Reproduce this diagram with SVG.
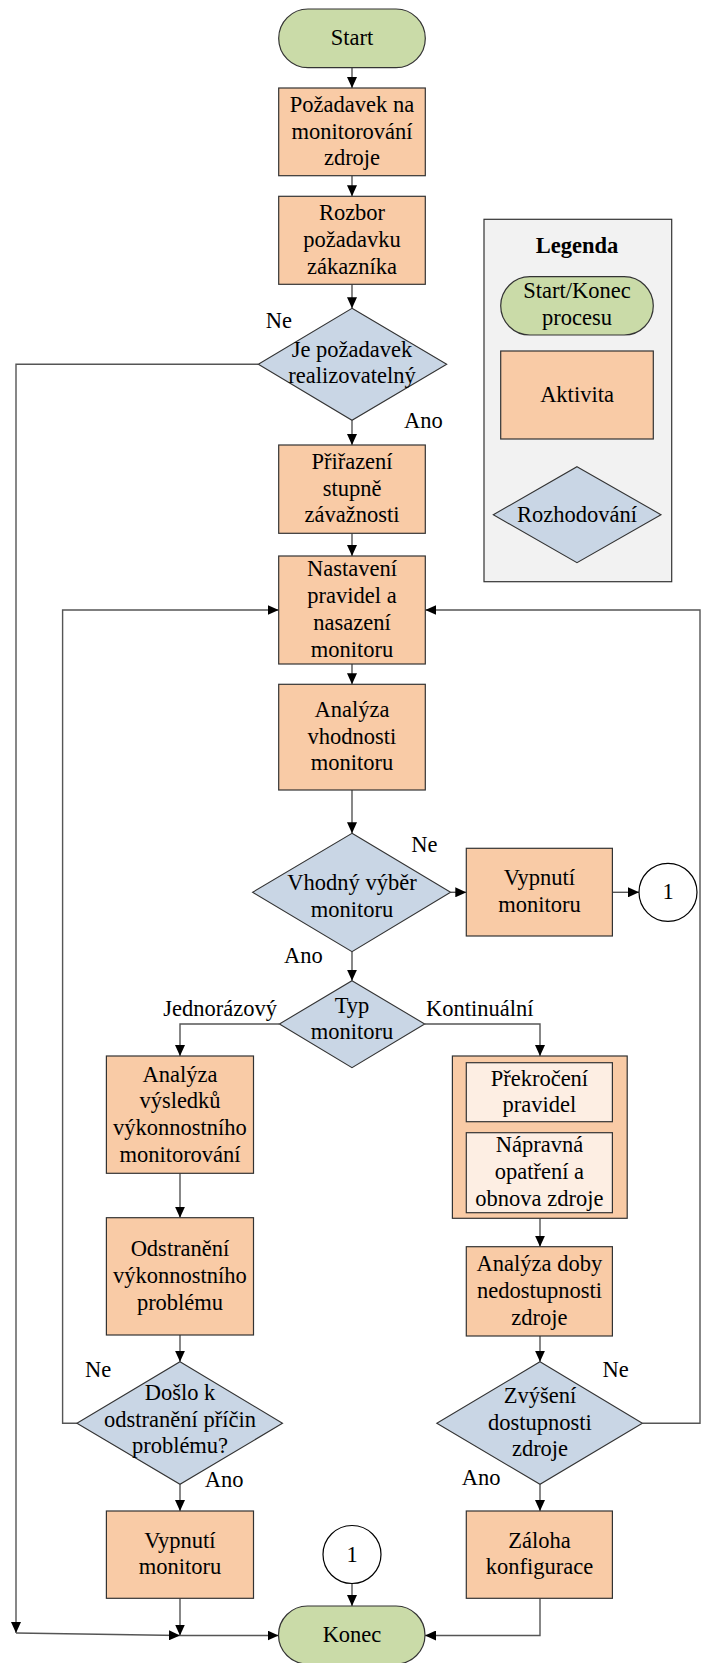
<svg xmlns="http://www.w3.org/2000/svg" width="701" height="1663" viewBox="0 0 701 1663" font-family="'Liberation Serif', 'Times New Roman', Tinos, serif">
<defs>
<style>
text{font-family:'Liberation Serif','Times New Roman',Tinos,serif;font-size:22.5px;fill:#000;text-anchor:middle}
.lbl{text-anchor:start}
.term{fill:#cadba8;stroke:#333;stroke-width:1.2}
.act{fill:#f9cba6;stroke:#333;stroke-width:1.2}
.inner{fill:#fdeee3;stroke:#333;stroke-width:1.2}
.dec{fill:#c9d6e5;stroke:#333;stroke-width:1.1}
.conn{fill:#fff;stroke:#000;stroke-width:1.2}
.leg{fill:#f2f2f2;stroke:#333;stroke-width:1.2}
.ca{fill:none;stroke:#555;stroke-width:1.4;marker-end:url(#ah)}
</style>
<marker id="ah" markerUnits="userSpaceOnUse" markerWidth="11" markerHeight="10" refX="11" refY="5" orient="auto">
<path d="M0,0 L11,5 L0,10 z" fill="#000"/>
</marker>
</defs>

<g id="legend">
<rect class="leg" x="484" y="219.3" width="187.7" height="362.4"/>
<text x="577" y="253.3" font-weight="bold">Legenda</text>
<rect class="term" x="500.7" y="276.7" width="152.6" height="58.3" rx="29.2"/>
<text x="577" y="298.3">Start/Konec</text>
<text x="577" y="325">procesu</text>
<rect class="act" x="500.7" y="351" width="152.6" height="88"/>
<text x="577" y="401.7">Aktivita</text>
<polygon class="dec" points="577,466.7 661,514.7 577,562.7 493.3,514.7"/>
<text x="577" y="521.7">Rozhodování</text>
</g>

<g id="connectors">
<path class="ca" d="M352,67.7 V88"/>
<path class="ca" d="M352,175.7 V196.3"/>
<path class="ca" d="M352,284.3 V308.3"/>
<path class="ca" d="M352,420.3 V445"/>
<path class="ca" d="M352,533.3 V556"/>
<path class="ca" d="M352,664 V684.3"/>
<path class="ca" d="M352,790 V833.3"/>
<path class="ca" d="M450.6,892.3 H466.3"/>
<path class="ca" d="M612.4,892.3 H639"/>
<path class="ca" d="M352,951.7 V980.7"/>
<path class="ca" d="M279.4,1024 H180 V1056"/>
<path class="ca" d="M424.7,1024 H540 V1056"/>
<path class="ca" d="M180,1173.3 V1217.7"/>
<path class="ca" d="M540,1218.3 V1246.7"/>
<path class="ca" d="M180,1335 V1361.7"/>
<path class="ca" d="M540,1336 V1361.7"/>
<path class="ca" d="M180,1484.3 V1511"/>
<path class="ca" d="M540,1484.3 V1511"/>
<path class="ca" d="M76.9,1423.3 H62.6 V610 H278.7"/>
<path class="ca" d="M642.4,1423.3 H700 V610 H425.3"/>
<path class="ca" d="M258.3,364.3 H16 V1633"/>
<path class="ca" d="M16,1633 L180,1635.5"/>
<path class="ca" d="M180,1598.3 V1635.5"/>
<path class="ca" d="M180,1635.5 H278.5"/>
<path class="ca" d="M352,1583.3 V1606"/>
<path class="ca" d="M540,1598.3 V1635.5 H425"/>
</g>

<g id="start">
<rect class="term" x="278.7" y="9" width="146.6" height="58.7" rx="29.3"/>
<text x="352" y="45">Start</text>
</g>

<g id="pozadavek">
<rect class="act" x="278.7" y="88" width="146.6" height="87.7"/>
<text x="352" y="112">Požadavek na</text>
<text x="352" y="138.5">monitorování</text>
<text x="352" y="165.2">zdroje</text>
</g>

<g id="rozbor">
<rect class="act" x="278.7" y="196.3" width="146.6" height="88"/>
<text x="352" y="220.3">Rozbor</text>
<text x="352" y="247">požadavku</text>
<text x="352" y="273.7">zákazníka</text>
</g>

<g id="realizovatelny">
<polygon class="dec" points="352,308.3 446.7,364.3 352,420.3 258.3,364.3"/>
<text x="352" y="356.5">Je požadavek</text>
<text x="352" y="382.5">realizovatelný</text>
</g>

<g id="prirazeni">
<rect class="act" x="278.7" y="445" width="146.6" height="88.3"/>
<text x="352" y="468.8">Přiřazení</text>
<text x="352" y="495.5">stupně</text>
<text x="352" y="522.2">závažnosti</text>
</g>

<g id="nastaveni">
<rect class="act" x="278.7" y="556" width="146.6" height="108"/>
<text x="352" y="576">Nastavení</text>
<text x="352" y="602.7">pravidel a</text>
<text x="352" y="629.7">nasazení</text>
<text x="352" y="656.7">monitoru</text>
</g>

<g id="analyza-vhodnosti">
<rect class="act" x="278.7" y="684.3" width="146.6" height="105.7"/>
<text x="352" y="716.8">Analýza</text>
<text x="352" y="743.5">vhodnosti</text>
<text x="352" y="770.2">monitoru</text>
</g>

<g id="vhodny-vyber">
<polygon class="dec" points="352,833.3 450.6,892.3 352,951.7 252.6,892.3"/>
<text x="352" y="889.5">Vhodný výběr</text>
<text x="352" y="916.5">monitoru</text>
</g>

<g id="vypnuti-1">
<rect class="act" x="466.3" y="848.3" width="146.1" height="87.7"/>
<text x="539.4" y="885.3">Vypnutí</text>
<text x="539.4" y="912">monitoru</text>
</g>

<g id="conn-1a">
<circle class="conn" cx="668" cy="892.3" r="29"/>
<text x="668" y="898.8">1</text>
</g>

<g id="typ">
<polygon class="dec" points="352,980.7 424.7,1024 352,1067.7 279.4,1024"/>
<text x="352" y="1012.7">Typ</text>
<text x="352" y="1038.8">monitoru</text>
</g>

<g id="analyza-vysledku">
<rect class="act" x="106.4" y="1056" width="147.1" height="117.3"/>
<text x="180" y="1081.6">Analýza</text>
<text x="180" y="1108.2">výsledků</text>
<text x="180" y="1134.9">výkonnostního</text>
<text x="180" y="1161.6">monitorování</text>
</g>

<g id="kontinualni">
<rect class="act" x="452.4" y="1056" width="174.8" height="162.3"/>
<rect class="inner" x="466.3" y="1062.7" width="146.1" height="59"/>
<text x="539.4" y="1085.6">Překročení</text>
<text x="539.4" y="1112.3">pravidel</text>
<rect class="inner" x="466.3" y="1132.7" width="146.1" height="80"/>
<text x="539.4" y="1152">Nápravná</text>
<text x="539.4" y="1179.3">opatření a</text>
<text x="539.4" y="1206.3">obnova zdroje</text>
</g>

<g id="odstraneni">
<rect class="act" x="106.4" y="1217.7" width="147.1" height="117.3"/>
<text x="180" y="1256.2">Odstranění</text>
<text x="180" y="1283.1">výkonnostního</text>
<text x="180" y="1309.9">problému</text>
</g>

<g id="analyza-doby">
<rect class="act" x="466.3" y="1246.7" width="146.1" height="89.3"/>
<text x="539.4" y="1271.2">Analýza doby</text>
<text x="539.4" y="1298.2">nedostupnosti</text>
<text x="539.4" y="1324.9">zdroje</text>
</g>

<g id="doslo">
<polygon class="dec" points="180,1361.7 282.5,1423.3 180,1484.3 76.9,1423.3"/>
<text x="180" y="1399.5">Došlo k</text>
<text x="180" y="1426.5">odstranění příčin</text>
<text x="180" y="1453.2">problému?</text>
</g>

<g id="zvyseni">
<polygon class="dec" points="540,1361.7 642.4,1423.3 540,1484.3 436.8,1423.3"/>
<text x="540" y="1402.8">Zvýšení</text>
<text x="540" y="1429.8">dostupnosti</text>
<text x="540" y="1456.3">zdroje</text>
</g>

<g id="vypnuti-2">
<rect class="act" x="106.4" y="1511" width="147.1" height="87.3"/>
<text x="180" y="1547.8">Vypnutí</text>
<text x="180" y="1574.4">monitoru</text>
</g>

<g id="zaloha">
<rect class="act" x="466.3" y="1511" width="146.1" height="87.3"/>
<text x="539.4" y="1547.8">Záloha</text>
<text x="539.4" y="1574.4">konfigurace</text>
</g>

<g id="conn-1b">
<circle class="conn" cx="352" cy="1554.5" r="29"/>
<text x="352" y="1561.5">1</text>
</g>

<g id="konec">
<rect class="term" x="278.5" y="1606" width="146.5" height="58" rx="29"/>
<text x="352" y="1641.7">Konec</text>
</g>

<g id="labels">
<text class="lbl" x="265.7" y="328.3">Ne</text>
<text class="lbl" x="404" y="427.7">Ano</text>
<text class="lbl" x="411.3" y="851.7">Ne</text>
<text class="lbl" x="284" y="963.3">Ano</text>
<text class="lbl" x="163.2" y="1016">Jednorázový</text>
<text class="lbl" x="426" y="1016">Kontinuální</text>
<text class="lbl" x="85" y="1376.7">Ne</text>
<text class="lbl" x="204.7" y="1486.7">Ano</text>
<text class="lbl" x="602.6" y="1376.7">Ne</text>
<text class="lbl" x="461.8" y="1485">Ano</text>
</g>
</svg>
